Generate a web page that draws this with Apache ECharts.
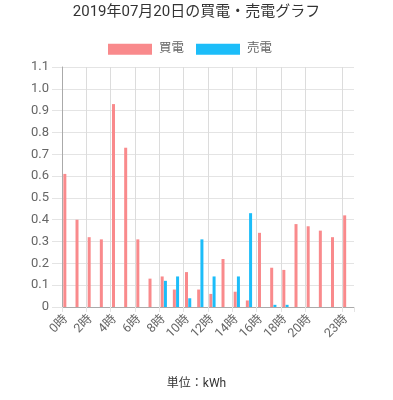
<!DOCTYPE html>
<html>
<head>
<meta charset="utf-8">
<script src="https://cdn.jsdelivr.net/npm/echarts@6/dist/echarts.min.js"></script>
<style>
html,body{margin:0;padding:0;background:#fff;}
#chart{width:393px;height:400px;}
</style>
</head>
<body>
<div id="chart"></div>
<script>
const titleText = '2019年07月20日の買電・売電グラフ';
const unitText = '単位：kWh';
const hours = ['0時','1時','2時','3時','4時','5時','6時','7時','8時','9時','10時','11時','12時','13時','14時','15時','16時','17時','18時','19時','20時','21時','22時','23時'];
const buyValues = [0.61,0.40,0.32,0.31,0.93,0.73,0.31,0.13,0.14,0.08,0.16,0.08,0.06,0.22,0.07,0.03,0.34,0.18,0.17,0.38,0.37,0.35,0.32,0.42];
const sellValues = [0,0,0,0,0,0,0,0,0.12,0.14,0.04,0.31,0.14,0,0.14,0.43,0,0.01,0.01,0,0,0,0,0];
const emptySlot = [null,null,null,null,null,null,null,null,null,null,null,null,null,null,null,null,null,null,null,null,null,null,null,null];
const shownLabelIndexes = [0,2,4,6,8,10,12,14,16,18,20,23];
const yMin = 0, yMax = 1.1, yStep = 0.1;

const FONT = 'Roboto, "Noto Sans CJK JP", sans-serif';
const RED = '#F98A8C';
const BLUE = '#1CBDF9';
const showIdx = (i) => shownLabelIndexes.indexOf(i) >= 0;
// one colour per drawn vertical line; the extra closing line at the right edge is hidden
const vLineColors = shownLabelIndexes.map(() => '#dcdcdc').concat(['rgba(0,0,0,0)']);
const vTickColors = shownLabelIndexes.map(() => '#c8c8c8').concat(['rgba(0,0,0,0)']);

const chart = echarts.init(document.getElementById('chart'), null, {renderer: 'canvas'});
chart.setOption({
  animation: false,
  textStyle: {fontFamily: FONT},
  title: {
    text: titleText, left: 'center', top: 5, padding: 0,
    textStyle: {fontSize: 15, fontWeight: 'normal', color: '#333', fontFamily: FONT}
  },
  legend: {
    data: ['買電','売電'], left: 108, top: 43, padding: 0,
    itemWidth: 44, itemHeight: 11, itemGap: 12,
    icon: 'rect',
    textStyle: {fontSize: 12.5, color: '#666', fontFamily: FONT, padding: [0,0,0,2]}
  },
  grid: {left: 62, right: 39, top: 67, bottom: 93, containLabel: false},
  xAxis: {
    type: 'category', data: hours, boundaryGap: true,
    axisLine: {show: true, lineStyle: {color: '#aaa', width: 1}},
    axisTick: {show: true, length: 5, interval: (i) => showIdx(i), lineStyle: {color: vTickColors}},
    axisLabel: {interval: (i) => showIdx(i), rotate: 45, fontSize: 12.5, color: '#666', margin: 8, fontFamily: FONT,
      padding: [0, 3, 6, 0]},
    splitLine: {show: true, interval: (i) => showIdx(i), lineStyle: {color: vLineColors, width: 1}}
  },
  yAxis: {
    type: 'value', min: yMin, max: yMax, interval: yStep,
    axisLine: {show: true, lineStyle: {color: '#aaa', width: 1}},
    axisTick: {show: true, length: 10, lineStyle: {color: '#e4e4e4'}},
    axisLabel: {
      fontSize: 13, color: '#666', margin: 13, fontFamily: FONT,
      formatter: (v) => (Math.abs(v) < 1e-9 ? '0' : v.toFixed(1))
    },
    splitLine: {show: true, lineStyle: {color: '#e4e4e4', width: 1}}
  },
  series: [
    {name: '買電', type: 'bar', data: buyValues, barWidth: 3, barGap: '8%', itemStyle: {color: RED}},
    {name: '売電', type: 'bar', data: sellValues, barWidth: 3, barGap: '8%', itemStyle: {color: BLUE}},
    {name: 'slot', type: 'bar', data: emptySlot, barWidth: 3, barGap: '8%', itemStyle: {color: 'rgba(0,0,0,0)'}}
  ],
  graphic: [{
    type: 'text', left: 'center', top: 378,
    style: {text: unitText, fontSize: 12, fill: '#333', fontFamily: FONT}
  }]
});
</script>
</body>
</html>
